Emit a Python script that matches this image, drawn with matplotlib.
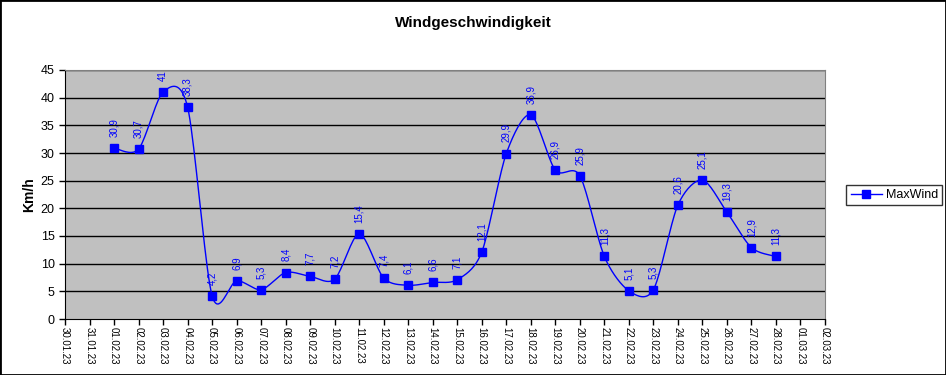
import matplotlib
matplotlib.use("Agg")
import matplotlib.pyplot as plt
from matplotlib.lines import Line2D
import numpy as np
import pandas as pd

# Daten
tage = pd.date_range("2023-01-30", "2023-03-02", freq="D")
tick_labels = [d.strftime("%d.%m.%y") for d in tage]
mess_tage = pd.date_range("2023-02-01", "2023-02-28", freq="D")
maxwind = [30.9, 30.7, 41, 38.3, 4.2, 6.9, 5.3, 8.4, 7.7, 7.2, 15.4, 7.4, 6.1, 6.6,
           7.1, 12.1, 29.9, 36.9, 26.9, 25.9, 11.3, 5.1, 5.3, 20.6, 25.1, 19.3, 12.9, 11.3]

plt.rcParams['font.family'] = ['Liberation Sans', 'DejaVu Sans']

x = np.array([(d - tage[0]).days for d in mess_tage], dtype=float)
y = np.array(maxwind, dtype=float)


def glatt(x, y, n=20, k=1 / 7):
    # Bezier-Glaettung aehnlich wie in Excel
    xs, ys = [], []
    for i in range(len(x) - 1):
        p0 = np.array([x[max(i - 1, 0)], y[max(i - 1, 0)]])
        p1 = np.array([x[i], y[i]])
        p2 = np.array([x[i + 1], y[i + 1]])
        p3 = np.array([x[min(i + 2, len(x) - 1)], y[min(i + 2, len(x) - 1)]])
        c1 = p1 + (p2 - p0) * k
        c2 = p2 - (p3 - p1) * k
        t = np.linspace(0, 1, n)[:, None]
        b = (1 - t) ** 3 * p1 + 3 * (1 - t) ** 2 * t * c1 + 3 * (1 - t) * t ** 2 * c2 + t ** 3 * p2
        xs.extend(b[:, 0])
        ys.extend(b[:, 1])
    return np.array(xs), np.array(ys)


fig = plt.figure(figsize=(9.46, 3.75), dpi=100)
fig.patch.set_facecolor('white')
ax = fig.add_axes([65 / 946, 1 - 319 / 375, 760 / 946, 249 / 375])
ax.set_facecolor('#c0c0c0')

for v in range(5, 46, 5):
    ax.axhline(v, color='black', lw=1, zorder=1)

sx, sy = glatt(x, y)
ax.plot(sx, sy, color='#0000ff', lw=1, zorder=3)
ax.plot(x, y, 's', color='#0000ff', ms=6, zorder=4)

for xi, yi in zip(x, y):
    txt = ('%g' % yi).replace('.', ',')
    ax.annotate(txt, (xi, yi), xytext=(0, 8), textcoords='offset points',
                rotation=90, ha='center', va='bottom', fontsize=7, color='#0000ff')

ax.set_xlim(0, len(tage) - 1)
ax.set_ylim(0, 45)
ax.set_yticks(range(0, 46, 5))
ax.set_xticks(range(len(tage)))
ax.set_xticklabels(tick_labels, rotation=270, fontsize=7)
ax.tick_params(axis='y', labelsize=9, length=4, width=1)
ax.tick_params(axis='x', length=4, width=1, pad=2)
ax.spines['left'].set_color('black')
ax.spines['bottom'].set_color('black')
ax.spines['top'].set_color('#808080')
ax.spines['right'].set_color('#808080')
ax.set_ylabel('Km/h', fontsize=10, fontweight='bold', labelpad=3)

fig.text(0.5, 0.94, 'Windgeschwindigkeit', ha='center', va='center',
         fontsize=11, fontweight='bold')

handle = Line2D([], [], color='#0000ff', lw=1, marker='s', ms=6)
leg = fig.legend([handle], ['MaxWind'], loc='center left',
                 bbox_to_anchor=(840 / 946, 1 - 195 / 375), fontsize=9,
                 frameon=True, fancybox=False, edgecolor='black',
                 handlelength=2.5, borderpad=0.35, handletextpad=0.3)
leg.get_frame().set_linewidth(1)

fig.patches.append(plt.Rectangle((0, 0), 1, 1, transform=fig.transFigure,
                                 fill=False, edgecolor='black', lw=2))

fig.savefig('out.png', dpi=100)
